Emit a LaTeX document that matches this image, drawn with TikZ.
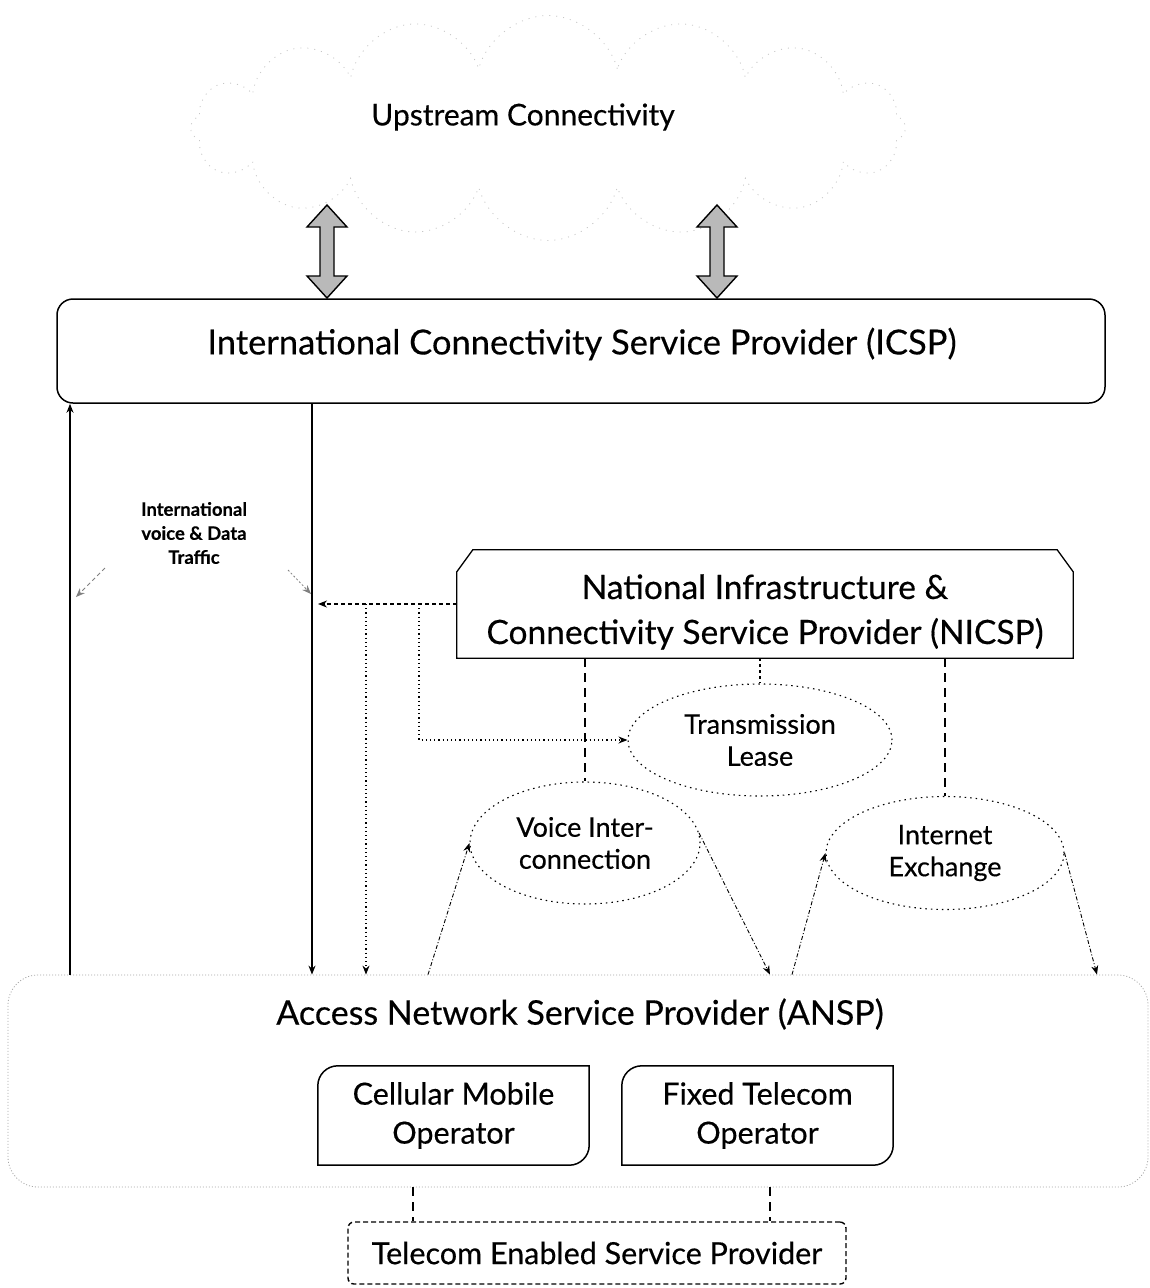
\documentclass[tikz,border=0pt]{standalone}
\usepackage{fontspec}
\setmainfont{Lato}[FakeBold=0.35]
\usetikzlibrary{shapes.symbols,shapes.geometric,arrows.meta,calc}
\newcommand{\fbig}{\fontsize{34.5}{45}\selectfont}
\newcommand{\fnic}{\fontsize{33.5}{45}\selectfont}
\newcommand{\fansp}{\fontsize{34}{40}\selectfont}
\newcommand{\fcloud}{\fontsize{30}{34}\selectfont}
\newcommand{\fop}{\fontsize{30.5}{39}\selectfont}
\newcommand{\fell}{\fontsize{27}{32}\selectfont}
\newcommand{\flbl}{\bfseries\fontsize{18.5}{24}\selectfont}
\newcommand{\fatarrow}[3]{%
  \draw[fatarr] (#1,#2) -- ++(20,-22) -- ++(-13,0) -- (#1+7,#3+22) -- ++(13,0) -- (#1,#3)
    -- ++(-20,22) -- ++(13,0) -- (#1-7,#2-22) -- ++(-13,0) -- cycle;}
\newcommand{\opbox}[1]{%
  \draw[line width=1.5pt] (#1.south west) -- ($(#1.north west)+(0,-20)$)
    arc[start angle=180,end angle=90,radius=20pt] -- (#1.north east)
    -- ($(#1.south east)+(0,20)$) arc[start angle=0,end angle=-90,radius=20pt] -- cycle;}
\begin{document}
\begin{tikzpicture}[x=1pt,y=1pt,
  tip/.style={-{Stealth[length=9pt,width=7pt]}},
  fatarr/.style={draw=black,line width=1.4pt,fill=gray!55},
  solidline/.style={line width=1.4pt},
  bigdash/.style={line width=2pt,dash pattern=on 9pt off 6pt},
  ndash/.style={line width=1.3pt,dash pattern=on 4pt off 3pt},
  ndot/.style={line width=1.1pt,dash pattern=on 1.2pt off 3pt},
  dashdot/.style={line width=0.9pt,dash pattern=on 4pt off 2pt on 1pt off 2pt},
  ell/.style={ellipse,draw,line width=1.1pt,dash pattern=on 1.5pt off 4pt,align=center,font=\fell},
]
\useasboundingbox (0,0) rectangle (1150,-1288);
\fill[white] (0,0) rectangle (1150,-1288);

% cloud
\node[cloud, cloud puffs=16, aspect=3.2, minimum width=715pt, minimum height=225pt,
  draw=gray!45, line width=0.8pt, dash pattern=on 1pt off 6pt] (up) at (548,-128) {};
\node[font=\fcloud] (uptext) at (523,-117) {Upstream Connectivity};

% fat double arrows
\fatarrow{327}{-205}{-298}
\fatarrow{717}{-205}{-298}

% ICSP
\node[draw, line width=1.5pt, rounded corners=16pt, minimum width=1048pt, minimum height=104pt] (icsp) at (581,-351) {};
\node[font=\fbig] (icspt) at (582,-344) {International Connectivity Service Provider (ICSP)};

% label
\node[font=\flbl, align=center] (lbl) at (194,-533) {International\\voice \& Data\\Traffic};

% NICSP
\node[minimum width=616pt, minimum height=108pt] (nicsp) at (765,-604) {};
\draw[line width=1.3pt] (nicsp.south west) -- ($(nicsp.north west)+(0,-22)$) -- ($(nicsp.north west)+(16,0)$)
  -- ($(nicsp.north east)+(-16,0)$) -- ($(nicsp.north east)+(0,-22)$) -- (nicsp.south east) -- cycle;
\node[font=\fnic, align=center] (nicspt) at (765,-612) {National Infrastructure \&\\Connectivity Service Provider (NICSP)};

% ellipses
\node[ell, minimum width=264pt, minimum height=112pt] (tl) at (760,-740) {Transmission\\Lease};
\node[ell, minimum width=230pt, minimum height=122pt] (vi) at (585,-843) {Voice Inter-\\connection};
\node[ell, minimum width=238pt, minimum height=113pt] (ix) at (945,-853) {Internet\\Exchange};

% ANSP
\node[draw=gray!70, line width=0.8pt, dash pattern=on 1pt off 2pt, rounded corners=30pt,
  minimum width=1140pt, minimum height=212pt] (ansp) at (578,-1081) {};
\node[font=\fansp] (anspt) at (580,-1014) {Access Network Service Provider (ANSP)};

\node[minimum width=271pt, minimum height=99pt, align=center, font=\fop] (cmo) at (453.5,-1115.5) {Cellular Mobile\\Operator};
\node[minimum width=271pt, minimum height=99pt, align=center, font=\fop] (fto) at (757.5,-1115.5) {Fixed Telecom\\Operator};
\opbox{cmo}
\opbox{fto}

% TESP
\node[draw, line width=1.4pt, dash pattern=on 5pt off 3pt, rounded corners=6pt,
  minimum width=498pt, minimum height=62pt, font=\fop] (tesp) at (597,-1253) {Telecom Enabled Service Provider};

% helper x positions
\coordinate (xl) at (70,0);
\coordinate (xm) at (312,0);
\coordinate (xm2) at (318,0);
\coordinate (xd1) at (366,0);
\coordinate (xd2) at (419,0);
\coordinate (xa1) at (428,0);
\coordinate (xa2) at (770,0);
\coordinate (xa3) at (792,0);
\coordinate (xa4) at (1097,0);
\coordinate (xb1) at (413,0);
\coordinate (xb2) at (770,0);
\coordinate (p1) at (105,-568);
\coordinate (p1e) at (76,-597);
\coordinate (p2) at (288,-570);
\coordinate (p2e) at (311,-594);

% connectors
\draw[solidline, tip] (ansp.north -| xl) -- (icsp.south -| xl);
\draw[solidline, tip] (icsp.south -| xm) -- (ansp.north -| xm);
\draw[ndash, tip] (nicsp.west) -- (nicsp.west -| xm2);
\draw[ndot, tip] (nicsp.west -| xd1) -- (ansp.north -| xd1);
\draw[ndot, tip] (nicsp.west -| xd2) |- (tl.west);
\draw[line width=2pt, dash pattern=on 3pt off 3pt] (tl.north |- nicsp.south) -- (tl.north);
\draw[bigdash] (vi.north |- nicsp.south) -- (vi.north);
\draw[bigdash] (ix.north |- nicsp.south) -- (ix.north);
\draw[dashdot, tip] (ansp.north -| xa1) -- (vi.180);
\draw[dashdot, tip] (vi.5) -- (ansp.north -| xa2);
\draw[dashdot, tip] (ansp.north -| xa3) -- (ix.180);
\draw[dashdot, tip] (ix.0) -- (ansp.north -| xa4);
\draw[gray, line width=0.8pt, dash pattern=on 4pt off 3pt, tip] (p1) -- (p1e);
\draw[gray, line width=0.8pt, dash pattern=on 2pt off 2pt, tip] (p2) -- (p2e);
\draw[bigdash] (ansp.south -| xb1) -- (tesp.north -| xb1);
\draw[bigdash] (ansp.south -| xb2) -- (tesp.north -| xb2);
\end{tikzpicture}
\end{document}
